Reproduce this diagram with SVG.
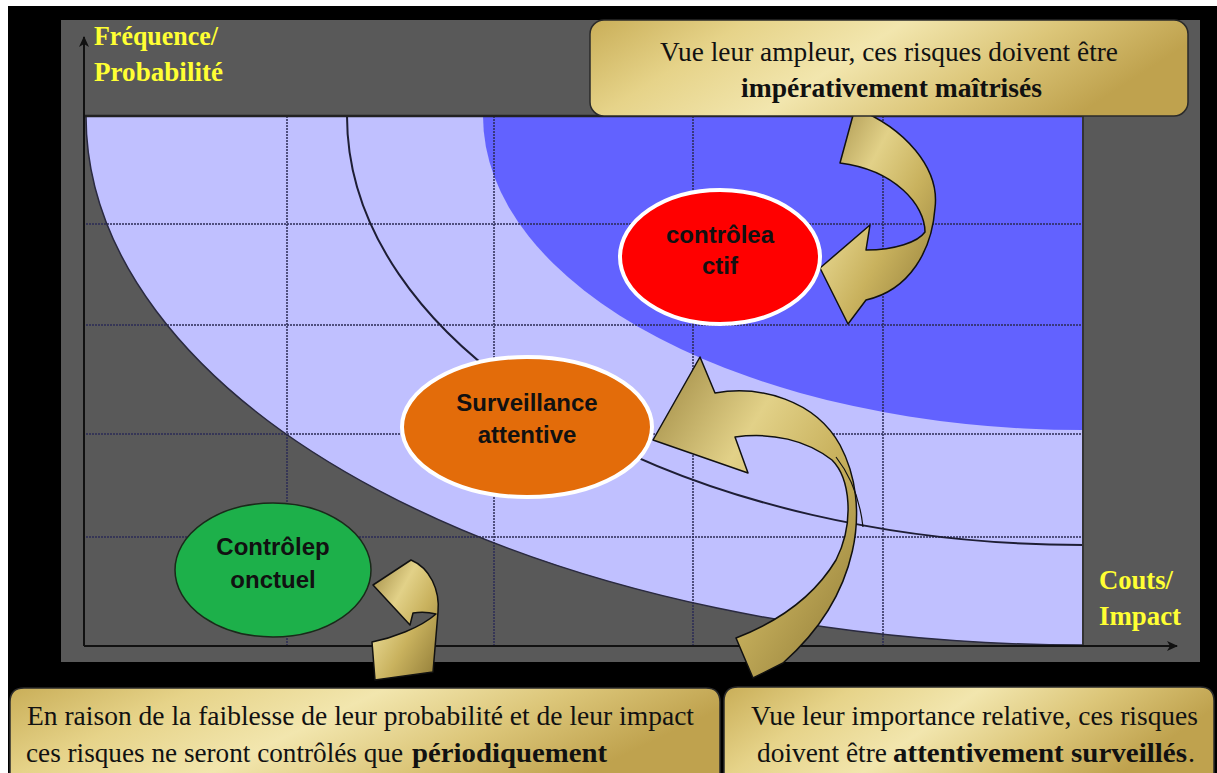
<svg xmlns="http://www.w3.org/2000/svg" width="1217" height="773" viewBox="0 0 1217 773">
<defs>
  <linearGradient id="gold" x1="0" y1="0" x2="1" y2="0.25">
    <stop offset="0" stop-color="#C9AE58"/>
    <stop offset="0.25" stop-color="#E6D389"/>
    <stop offset="0.5" stop-color="#F2E6AE"/>
    <stop offset="0.75" stop-color="#DCC679"/>
    <stop offset="1" stop-color="#BFA24E"/>
  </linearGradient>
  <linearGradient id="goldA" x1="0" y1="0" x2="1" y2="1">
    <stop offset="0" stop-color="#9C8640"/>
    <stop offset="0.35" stop-color="#E2D188"/>
    <stop offset="0.6" stop-color="#C9B25E"/>
    <stop offset="1" stop-color="#8F7A36"/>
  </linearGradient>
  <marker id="ah" markerWidth="12" markerHeight="12" refX="10" refY="6" orient="auto" markerUnits="userSpaceOnUse">
    <path d="M0,1 L11,6 L0,11 L3,6 Z" fill="#111"/>
  </marker>
</defs>
<style>
  .grid{stroke:#2b2b55;stroke-width:1.5;stroke-dasharray:2 1;fill:none}
  .ax{font-family:"Liberation Serif","Times New Roman",serif;font-weight:bold;font-size:28px;fill:#FFFF33}
  .lbl{font-family:"Liberation Sans",Arial,sans-serif;font-weight:bold;font-size:24px;fill:#111;text-anchor:middle}
  .box{fill:url(#gold);stroke:#2a2a2a;stroke-width:1.5}
  .bt{font-family:"Liberation Serif","Times New Roman",serif;font-size:28px;fill:#111}
  .b{font-weight:bold}
  .arr{fill:url(#goldA);stroke:#111;stroke-width:1.5;stroke-linejoin:round}
  .axis{stroke:#111;stroke-width:2;fill:none}
</style>

<rect x="0" y="0" width="1217" height="773" fill="#ffffff"/>
<rect x="8" y="6" width="1209" height="767" fill="#000000"/>
<rect x="61" y="20" width="1139" height="642" fill="#595959"/>

<g id="plot">
  <path d="M86,116 L1083,116 L1083,645 A997,529 0 0 1 86,116 Z" fill="#C0C0FF"/>
  <path d="M483,116 L1083,116 L1083,430 A600,314 0 0 1 483,116 Z" fill="#6262FF"/>
  <g class="grid">
    <line x1="287" y1="116" x2="287" y2="645"/>
    <line x1="494" y1="116" x2="494" y2="645"/>
    <line x1="693" y1="116" x2="693" y2="645"/>
    <line x1="883" y1="116" x2="883" y2="645"/>
    <line x1="86" y1="224" x2="1083" y2="224"/>
    <line x1="86" y1="325" x2="1083" y2="325"/>
    <line x1="86" y1="434" x2="1083" y2="434"/>
    <line x1="86" y1="537" x2="1083" y2="537"/>
  </g>
  <path d="M86,116 A997,529 0 0 0 1083,645" fill="none" stroke="#2a2a40" stroke-width="1.5"/>
  <path d="M347,116 A736,429 0 0 0 1083,545" fill="none" stroke="#1e1e35" stroke-width="2"/>
  <line x1="84" y1="116" x2="1083" y2="116" stroke="#222" stroke-width="2.5"/>
  <line x1="1083" y1="116" x2="1083" y2="645" stroke="#333" stroke-width="2"/>
</g>

<g id="axes">
  <line class="axis" x1="84" y1="646" x2="84" y2="37" marker-end="url(#ah)"/>
  <line class="axis" x1="84" y1="646" x2="1177" y2="646" marker-end="url(#ah)"/>
  <text class="ax" x="94" y="45" textLength="124" lengthAdjust="spacingAndGlyphs">Fréquence/</text>
  <text class="ax" x="94" y="81" textLength="129" lengthAdjust="spacingAndGlyphs">Probabilité</text>
  <text class="ax" x="1099" y="589" textLength="74" lengthAdjust="spacingAndGlyphs">Couts/</text>
  <text class="ax" x="1099" y="625" textLength="82" lengthAdjust="spacingAndGlyphs">Impact</text>
</g>

<g id="connectors">
  <path class="arr" d="M855,108 C905,128 940,168 935,208 C932,250 910,290 866,300 L848,324 L820,268 L870,225 L866,250 C895,250 918,242 925,232 C925,205 895,170 840,163 Z"/>
  <path class="arr" d="M700,357 L715,393 C760,385 815,400 840,445 C872,505 860,595 783,663 L753,678 L736,638 C772,624 812,600 836,560 C855,522 850,478 832,460 C806,440 772,432 735,437 L748,473 L653,440 Z"/>
  <path d="M836,457 C850,475 860,500 863,527" fill="none" stroke="#111" stroke-width="1.2"/>
  <path class="arr" d="M373,585 L411,560 C430,568 440,590 438,612 L433,672 L375,680 L372,642 C392,638 420,628 436,614 C428,612 420,612 413,613 L410,625 Z"/>
</g>

<g id="node-controle-actif">
  <ellipse cx="720" cy="257" rx="100" ry="67" fill="#FF0000" stroke="#ffffff" stroke-width="4"/>
  <text class="lbl" x="720" y="243">contrôlea</text>
  <text class="lbl" x="720" y="274">ctif</text>
</g>

<g id="node-surveillance">
  <ellipse cx="527" cy="427" rx="125" ry="70" fill="#E36C0A" stroke="#ffffff" stroke-width="4"/>
  <text class="lbl" x="527" y="411">Surveillance</text>
  <text class="lbl" x="527" y="443">attentive</text>
</g>

<g id="node-controle-ponctuel">
  <ellipse cx="273" cy="570" rx="98" ry="67" fill="#1DB04A" stroke="#1a2a1a" stroke-width="1.5"/>
  <text class="lbl" x="273" y="555">Contrôlep</text>
  <text class="lbl" x="273" y="588">onctuel</text>
</g>

<g id="box-top">
  <rect class="box" x="590" y="20" width="598" height="96" rx="14"/>
  <text class="bt" x="660" y="61" textLength="458" lengthAdjust="spacingAndGlyphs">Vue leur ampleur, ces risques doivent être</text>
  <text class="bt b" x="741" y="97" textLength="301" lengthAdjust="spacingAndGlyphs">impérativement maîtrisés</text>
</g>

<g id="box-bottom-left">
  <path class="box" d="M10,773 L10,702 Q10,688 24,688 L706,688 Q720,688 720,702 L720,773"/>
  <text class="bt" x="27" y="725" textLength="667" lengthAdjust="spacingAndGlyphs">En raison de la faiblesse de leur probabilité et de leur impact</text>
  <text class="bt" y="762"><tspan x="26" textLength="377" lengthAdjust="spacingAndGlyphs">ces risques ne seront contrôlés que</tspan><tspan class="b" x="412" textLength="195" lengthAdjust="spacingAndGlyphs">périodiquement</tspan></text>
</g>

<g id="box-bottom-right">
  <path class="box" d="M724,773 L724,701 Q724,687 738,687 L1200,687 Q1214,687 1214,701 L1214,773"/>
  <text class="bt" x="751" y="725" textLength="447" lengthAdjust="spacingAndGlyphs">Vue leur importance relative, ces risques</text>
  <text class="bt" y="762"><tspan x="757" textLength="130" lengthAdjust="spacingAndGlyphs">doivent être</tspan><tspan class="b" x="893" textLength="294" lengthAdjust="spacingAndGlyphs">attentivement surveillés</tspan><tspan x="1188">.</tspan></text>
</g>
</svg>
